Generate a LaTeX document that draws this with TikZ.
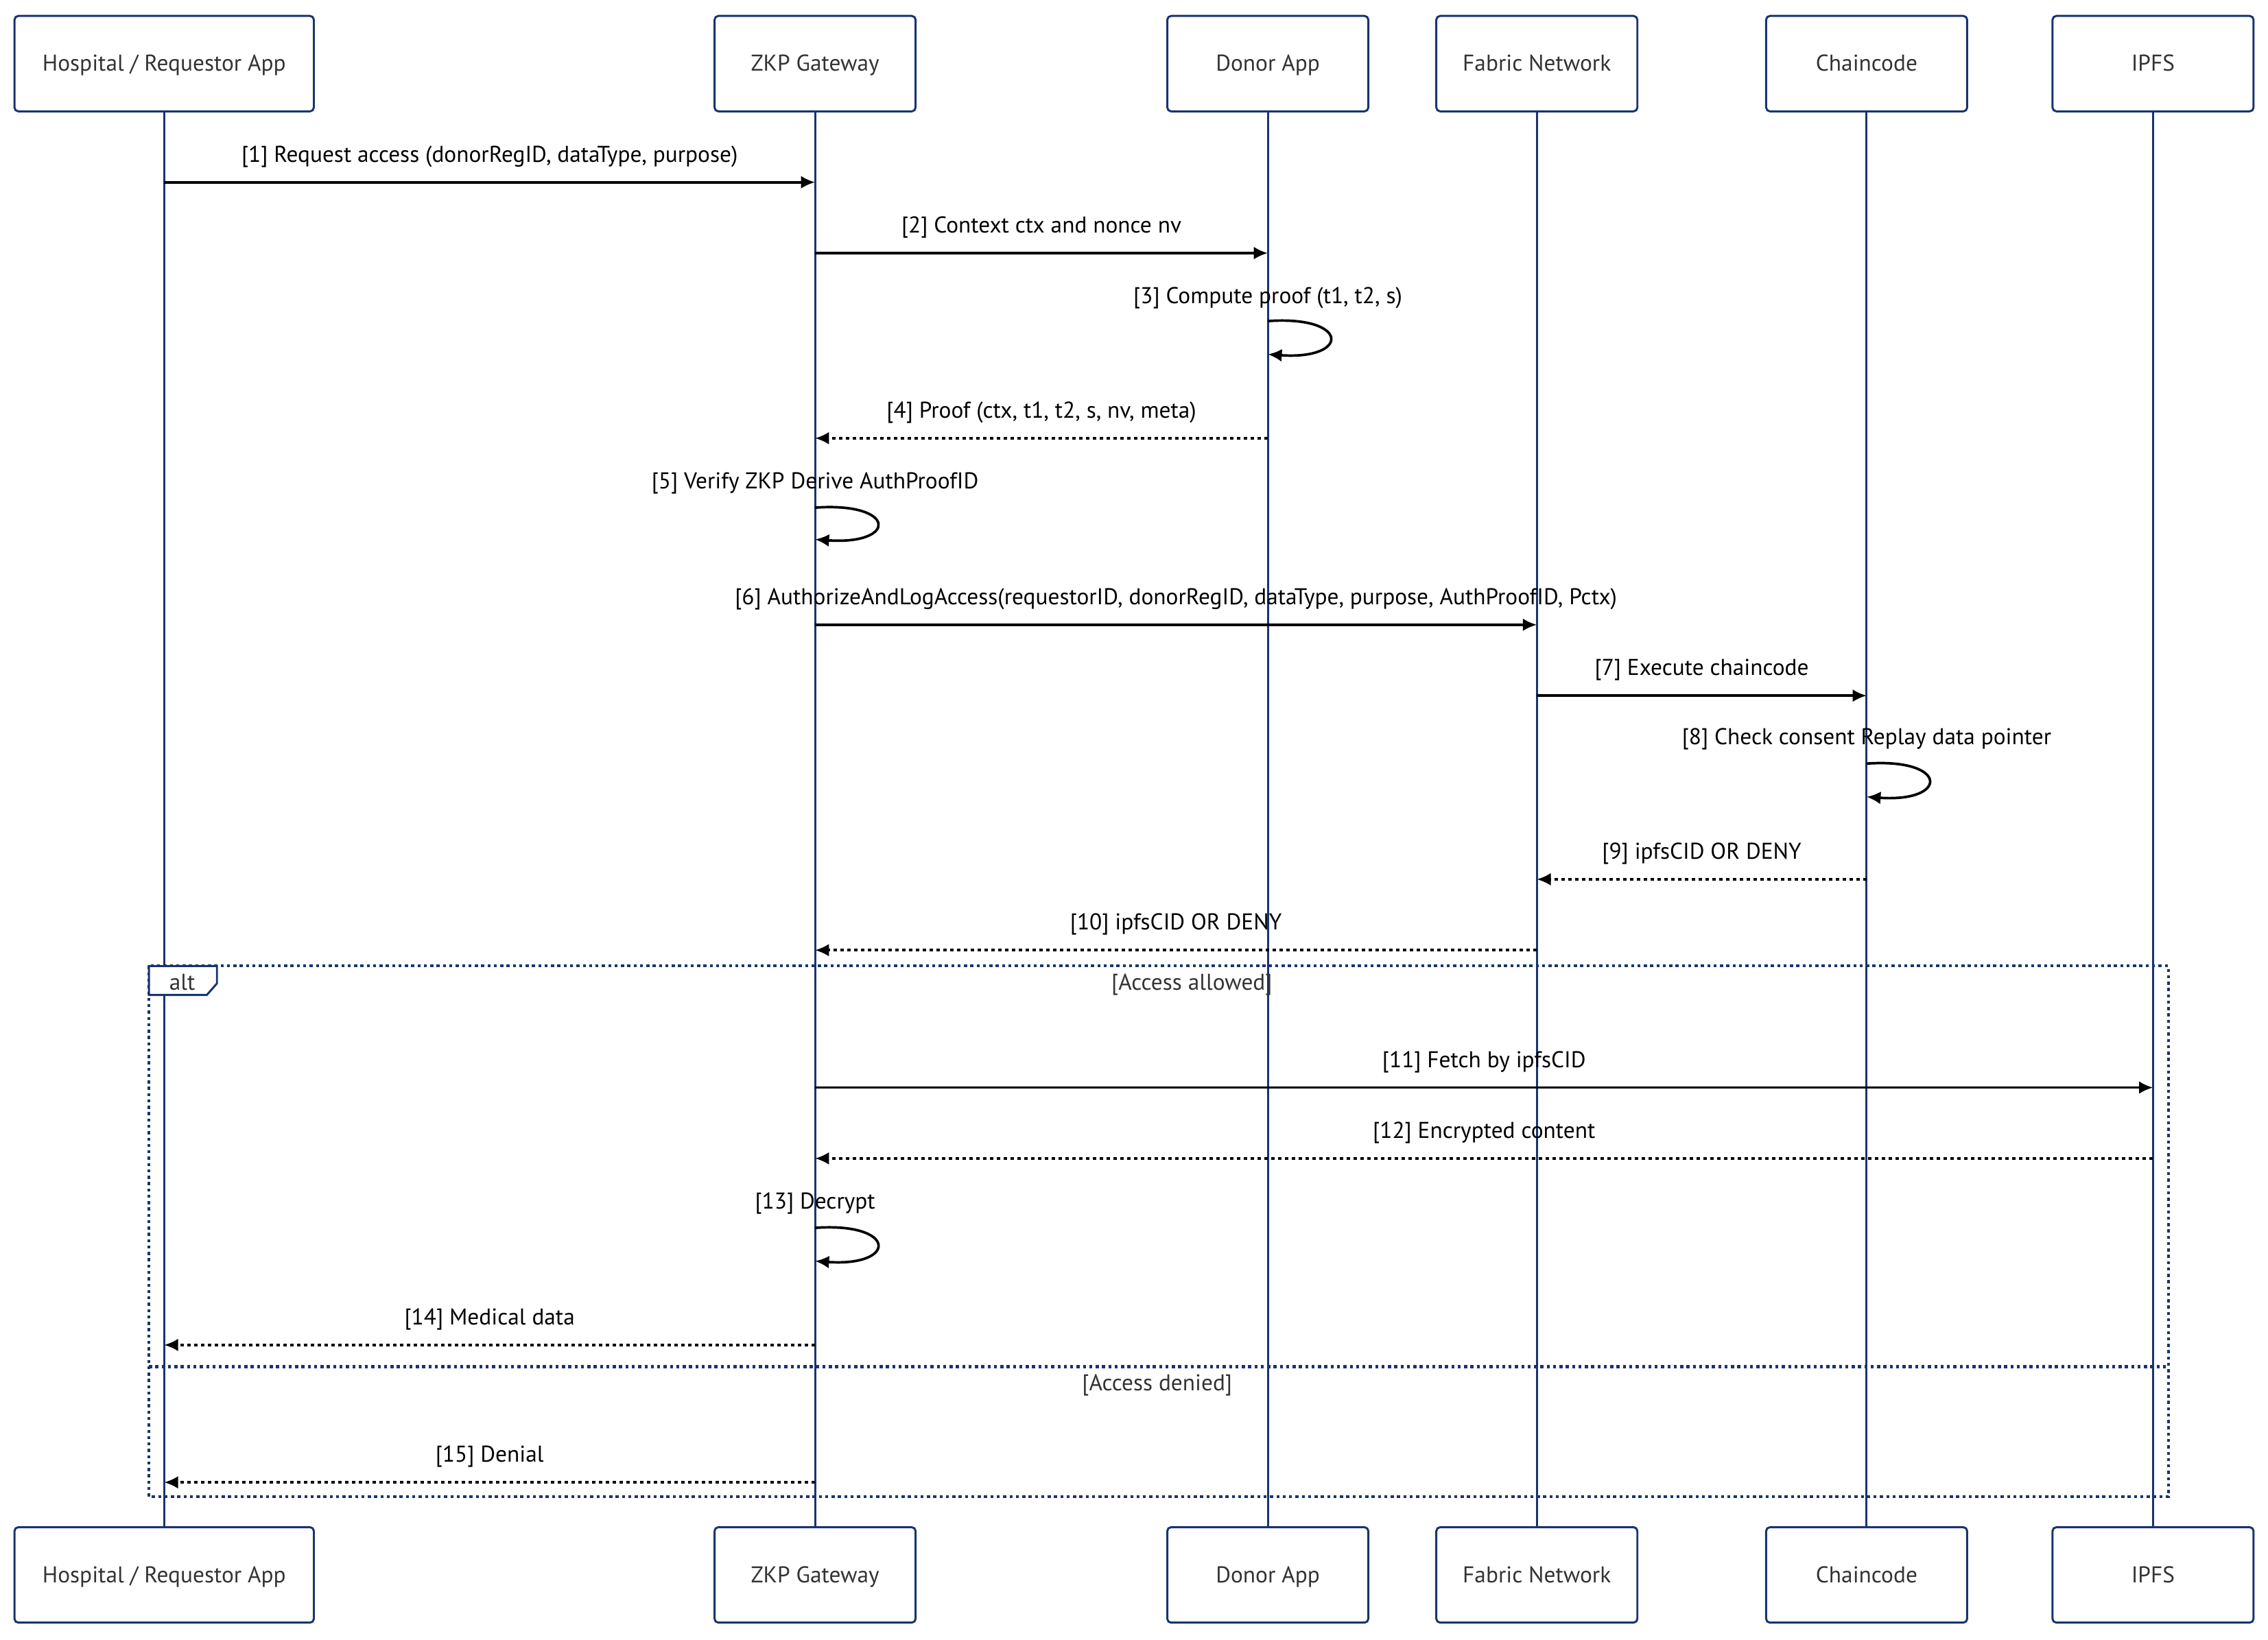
\documentclass[tikz,border=0pt]{standalone}
\usepackage{fontspec}
\setmainfont{PT Sans}
\usetikzlibrary{arrows.meta}
\definecolor{navy}{RGB}{24,52,112}
\definecolor{txt}{RGB}{51,51,51}
\begin{document}
\begin{tikzpicture}[x=0.02cm,y=-0.02cm,>={Latex[length=5.5pt,width=5pt]},
  actor/.style={draw=navy,line width=0.8pt,rounded corners=1.5pt,fill=white,minimum width=2.78cm,minimum height=1.32cm,text=txt,font=\fontsize{9}{11}\selectfont,text height=1.6ex,text depth=.4ex},
  life/.style={draw=navy,line width=0.8pt},
  call/.style={->,line width=1pt},
  reply/.style={->,line width=1pt,dash pattern=on 1.4pt off 1.3pt},
  lbl/.style={font=\fontsize{9}{11}\selectfont,text=black},
  guard/.style={font=\fontsize{9}{11}\selectfont,text=txt},
  altframe/.style={draw=navy,line width=1.1pt,dash pattern=on 1.2pt off 1.3pt}]
\useasboundingbox (0,0) rectangle (1568,1134);
% participants, top and bottom
\node[actor,minimum width=4.14cm] (hosp) at (113.5,44) {Hospital / Requestor App};
\node[actor] (zkp) at (563.5,44) {ZKP Gateway};
\node[actor] (donor) at (876.5,44) {Donor App};
\node[actor] (fabric) at (1062.5,44) {Fabric Network};
\node[actor] (chain) at (1290.5,44) {Chaincode};
\node[actor] (ipfs) at (1488.5,44) {IPFS};
\node[actor,minimum width=4.14cm] (hospB) at (113.5,1089) {Hospital / Requestor App};
\node[actor] (zkpB) at (563.5,1089) {ZKP Gateway};
\node[actor] (donorB) at (876.5,1089) {Donor App};
\node[actor] (fabricB) at (1062.5,1089) {Fabric Network};
\node[actor] (chainB) at (1290.5,1089) {Chaincode};
\node[actor] (ipfsB) at (1488.5,1089) {IPFS};
\foreach \a in {hosp,zkp,donor,fabric,chain,ipfs}
  \draw[life] (\a.south) -- (\a B.north);
% points on the lifelines, one row per message
\foreach \n/\y in {1/126,2/175,3/222,3b/245,4/303,5/351,5b/373,6/432,7/481,8/528,8b/551,9/608,10/657,11/752,12/801,13/849,13b/872,14/930,15/1025}
  \foreach \a in {hosp,zkp,donor,fabric,chain,ipfs}
    \coordinate (\a\n) at (\a |- 0,\y);
% alt frame
\coordinate (altNW) at (103,668);
\coordinate (altSE) at (1499,1035);
\coordinate (sepW) at (103,945);
\coordinate (sepE) at (1499,945);
\draw[altframe] (altNW) rectangle (altSE);
\draw[altframe] (sepW) -- (sepE);
\draw[draw=navy,fill=white,line width=0.8pt] (altNW) -- ++(47,0) -- ++(0,12) -- ++(-7,8) -- ++(-40,0) -- cycle;
\node[guard] (altTag) at (126,679) {alt};
\node[guard] (allowed) at (824,681) {[Access allowed]};
\node[guard] (denied) at (800,958) {[Access denied]};
% messages
\draw[call] (hosp1) -- node[lbl,above=2pt] (l1) {[1] Request access (donorRegID, dataType, purpose)} (zkp1);
\draw[call] (zkp2) -- node[lbl,above=2pt] (l2) {[2] Context ctx and nonce nv} (donor2);
\node[lbl] (l3) at (donor |- 0,206) {[3] Compute proof (t1, t2, s)};
\draw[call] (donor3) .. controls +(57,-4) and +(57,4) .. (donor3b);
\draw[reply] (donor4) -- node[lbl,above=2pt] (l4) {[4] Proof (ctx, t1, t2, s, nv, meta)} (zkp4);
\node[lbl] (l5) at (zkp |- 0,334) {[5] Verify ZKP Derive AuthProofID};
\draw[call] (zkp5) .. controls +(57,-4) and +(57,4) .. (zkp5b);
\draw[call] (zkp6) -- node[lbl,above=2pt] (l6) {[6] AuthorizeAndLogAccess(requestorID, donorRegID, dataType, purpose, AuthProofID, Pctx)} (fabric6);
\draw[call] (fabric7) -- node[lbl,above=2pt] (l7) {[7] Execute chaincode} (chain7);
\node[lbl] (l8) at (chain |- 0,511) {[8] Check consent Replay data pointer};
\draw[call] (chain8) .. controls +(57,-4) and +(57,4) .. (chain8b);
\draw[reply] (chain9) -- node[lbl,above=2pt] (l9) {[9] ipfsCID OR DENY} (fabric9);
\draw[reply] (fabric10) -- node[lbl,above=2pt] (l10) {[10] ipfsCID OR DENY} (zkp10);
\draw[call] (zkp11) -- node[lbl,above=2pt] (l11) {[11] Fetch by ipfsCID} (ipfs11);
\draw[reply] (ipfs12) -- node[lbl,above=2pt] (l12) {[12] Encrypted content} (zkp12);
\node[lbl] (l13) at (zkp |- 0,832) {[13] Decrypt};
\draw[call] (zkp13) .. controls +(57,-4) and +(57,4) .. (zkp13b);
\draw[reply] (zkp14) -- node[lbl,above=2pt] (l14) {[14] Medical data} (hosp14);
\draw[reply] (zkp15) -- node[lbl,above=2pt] (l15) {[15] Denial} (hosp15);
\end{tikzpicture}
\end{document}
